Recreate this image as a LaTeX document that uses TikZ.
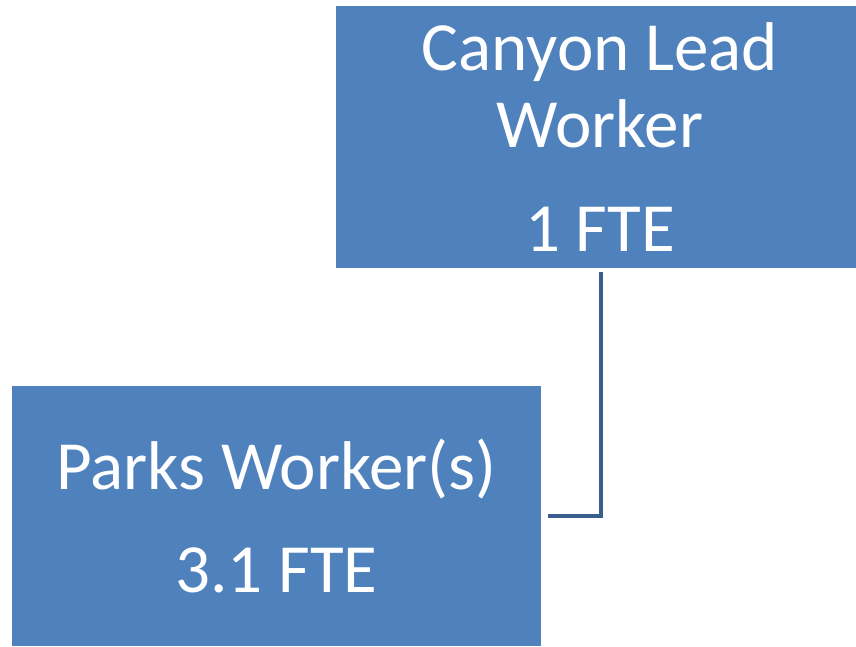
\documentclass[tikz,border=0pt]{standalone}
\usepackage{fontspec}
\setmainfont{Carlito}
\definecolor{C1}{HTML}{4F81BD}
\definecolor{C2}{HTML}{3A5F8F}

\begin{document}
\begin{tikzpicture}[x=1pt,y=-1pt]
\tikzstyle{b} = [fill=C1,draw=none,inner sep=0pt,text=white,align=center,font=\fontsize{69}{77}\selectfont]
\tikzstyle{l} = [line width=4pt,C2]
\useasboundingbox (0,0) rectangle (856,646);
\node[b,minimum width=520pt,minimum height=262pt] (1) at (596,137) {};
\node[b] (1t) at (600,137) {Canyon Lead\\Worker\\[27pt]1 FTE};
\node[b,minimum width=529pt,minimum height=260pt] (2) at (276.5,516) {Parks Worker(s)\\[26pt]3.1 FTE};
\coordinate (c) at ([xshift=5pt,yshift=-4pt]1.south);
\coordinate (d) at ([xshift=7pt]2.east);
\draw[l] (c) |- (d);
\end{tikzpicture}
\end{document}
